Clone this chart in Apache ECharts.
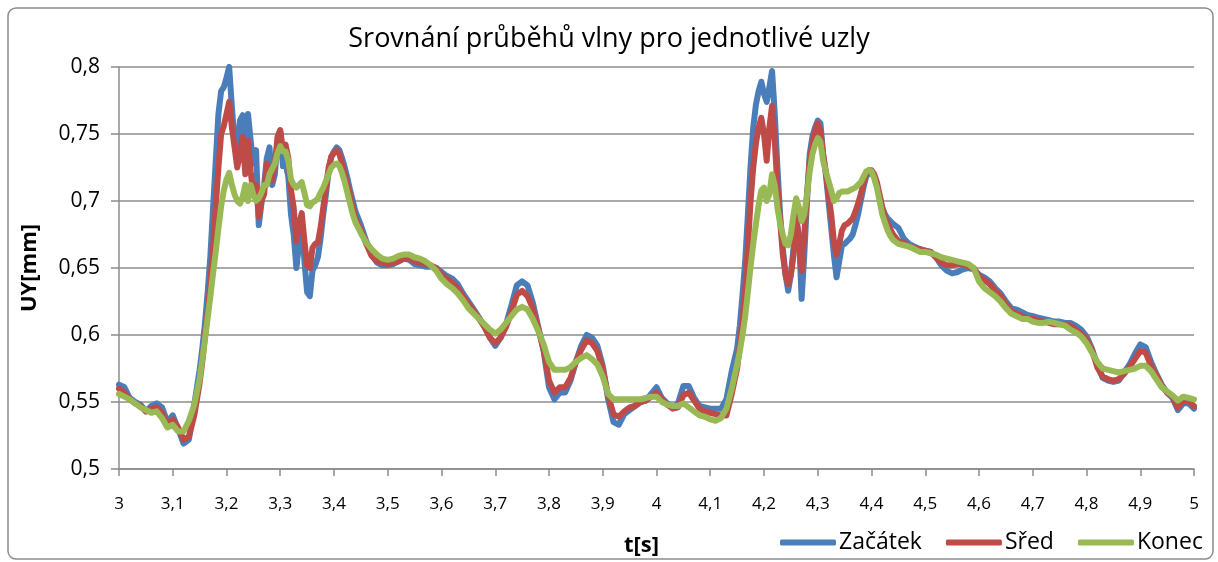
<!DOCTYPE html>
<html>
<head>
<meta charset="utf-8">
<script src="https://cdn.jsdelivr.net/npm/echarts@6/dist/echarts.min.js"></script>
<style>
  html, body { margin: 0; padding: 0; background: #ffffff; }
  #chart { width: 1218px; height: 562px; }
</style>
</head>
<body>
<div id="chart"></div>
<script>
// Time samples [s]: 0.01 s steps, 0.005 s through the two wave fronts
const T = [
  3.00,3.01,3.02,3.03,3.04,3.05,3.06,3.07,3.08,3.09,3.10,3.11,3.12,3.13,3.14,
  3.150,3.155,3.160,3.165,3.170,3.175,3.180,3.185,3.190,3.195,
  3.200,3.205,3.210,3.215,3.220,3.225,3.230,3.235,3.240,3.245,
  3.250,3.255,3.260,3.265,3.270,3.275,3.280,3.285,3.290,3.295,
  3.300,3.305,3.310,3.315,3.320,3.325,3.330,3.335,3.340,3.345,
  3.350,3.355,3.360,3.365,3.370,3.375,3.380,3.385,3.390,3.395,
  3.400,3.405,3.410,3.415,3.420,3.425,3.430,3.435,3.440,
  3.45,3.46,3.47,3.48,3.49,3.50,3.51,3.52,3.53,3.54,
  3.55,3.56,3.57,3.58,3.59,3.60,3.61,3.62,3.63,3.64,
  3.65,3.66,3.67,3.68,3.69,3.70,3.71,3.72,3.73,3.74,
  3.75,3.76,3.77,3.78,3.79,3.80,3.81,3.82,3.83,3.84,
  3.85,3.86,3.87,3.88,3.89,3.90,3.91,3.92,3.93,3.94,
  3.95,3.96,3.97,3.98,3.99,4.00,4.01,4.02,4.03,4.04,
  4.05,4.06,4.07,4.08,4.09,4.10,4.11,4.12,4.13,4.14,
  4.150,4.155,4.160,4.165,4.170,4.175,4.180,4.185,4.190,4.195,
  4.200,4.205,4.210,4.215,4.220,4.225,4.230,4.235,4.240,4.245,
  4.250,4.255,4.260,4.265,4.270,4.275,4.280,4.285,4.290,4.295,
  4.300,4.305,4.310,4.315,4.320,4.325,4.330,4.335,4.340,4.345,
  4.350,4.355,4.360,4.365,4.370,4.375,4.380,4.385,4.390,4.395,
  4.400,4.405,4.410,4.415,4.420,4.425,4.430,4.435,4.440,
  4.45,4.46,4.47,4.48,4.49,4.50,4.51,4.52,4.53,4.54,
  4.55,4.56,4.57,4.58,4.59,4.60,4.61,4.62,4.63,4.64,
  4.65,4.66,4.67,4.68,4.69,4.70,4.71,4.72,4.73,4.74,
  4.75,4.76,4.77,4.78,4.79,4.80,4.81,4.82,4.83,4.84,
  4.85,4.86,4.87,4.88,4.89,4.90,4.91,4.92,4.93,4.94,
  4.95,4.96,4.97,4.98,4.99,5.00
];

// UY [mm] at the start node
const ZACATEK = [
  0.563,0.561,0.553,0.550,0.548,0.543,0.547,0.549,0.546,0.535,0.540,0.530,0.519,0.522,0.548,
  0.574,0.590,0.609,0.632,0.659,0.695,0.730,0.765,0.782,0.785,
  0.792,0.800,0.770,0.745,0.735,0.760,0.764,0.735,0.765,0.745,
  0.728,0.738,0.682,0.698,0.712,0.732,0.740,0.712,0.720,0.745,
  0.752,0.726,0.728,0.718,0.690,0.675,0.650,0.668,0.686,0.655,
  0.632,0.629,0.648,0.652,0.658,0.672,0.690,0.705,0.722,0.733,
  0.737,0.740,0.738,0.732,0.725,0.717,0.708,0.700,0.692,
  0.682,0.670,0.660,0.654,0.652,0.652,0.653,0.655,0.657,0.656,
  0.653,0.652,0.651,0.651,0.650,0.647,0.644,0.642,0.638,0.631,
  0.625,0.619,0.613,0.606,0.598,0.592,0.598,0.608,0.622,0.637,
  0.640,0.637,0.624,0.606,0.588,0.561,0.552,0.557,0.557,0.566,
  0.580,0.592,0.600,0.598,0.592,0.577,0.552,0.535,0.533,0.541,
  0.544,0.547,0.550,0.551,0.556,0.561,0.553,0.549,0.546,0.549,
  0.562,0.562,0.553,0.547,0.546,0.545,0.545,0.545,0.552,0.573,
  0.590,0.607,0.630,0.655,0.690,0.726,0.755,0.772,0.782,0.789,
  0.780,0.774,0.785,0.797,0.765,0.725,0.690,0.665,0.645,0.633,
  0.645,0.665,0.685,0.675,0.627,0.660,0.700,0.735,0.748,0.755,
  0.760,0.758,0.735,0.720,0.700,0.680,0.660,0.643,0.655,0.667,
  0.668,0.670,0.672,0.675,0.682,0.690,0.700,0.710,0.718,0.721,
  0.721,0.718,0.712,0.703,0.695,0.690,0.687,0.685,0.683,
  0.680,0.672,0.668,0.666,0.664,0.663,0.662,0.658,0.652,0.648,
  0.646,0.647,0.649,0.650,0.649,0.645,0.643,0.640,0.635,0.631,
  0.625,0.620,0.619,0.617,0.615,0.614,0.613,0.612,0.611,0.610,
  0.610,0.609,0.609,0.607,0.604,0.599,0.590,0.578,0.568,0.566,
  0.565,0.566,0.572,0.578,0.586,0.593,0.591,0.580,0.571,0.563,
  0.557,0.553,0.544,0.549,0.549,0.545
];

// UY [mm] at the middle node
const SRED = [
  0.560,0.557,0.552,0.549,0.547,0.543,0.545,0.546,0.542,0.533,0.537,0.531,0.522,0.524,0.540,
  0.564,0.580,0.599,0.618,0.639,0.665,0.696,0.725,0.750,0.756,
  0.765,0.774,0.755,0.740,0.725,0.735,0.748,0.720,0.745,0.722,
  0.705,0.712,0.688,0.700,0.705,0.728,0.722,0.715,0.728,0.748,
  0.753,0.738,0.742,0.732,0.708,0.695,0.670,0.682,0.691,0.670,
  0.652,0.650,0.665,0.668,0.669,0.680,0.695,0.710,0.725,0.733,
  0.736,0.738,0.735,0.728,0.720,0.712,0.704,0.695,0.687,
  0.678,0.668,0.659,0.655,0.654,0.653,0.654,0.655,0.657,0.657,
  0.655,0.654,0.653,0.652,0.650,0.645,0.642,0.639,0.635,0.629,
  0.623,0.618,0.612,0.606,0.598,0.594,0.598,0.606,0.617,0.630,
  0.633,0.629,0.620,0.605,0.589,0.566,0.557,0.561,0.561,0.568,
  0.580,0.589,0.596,0.594,0.588,0.575,0.555,0.541,0.539,0.543,
  0.546,0.547,0.550,0.551,0.554,0.557,0.552,0.548,0.545,0.546,
  0.555,0.557,0.551,0.545,0.543,0.542,0.541,0.540,0.540,0.556,
  0.575,0.592,0.612,0.635,0.665,0.700,0.725,0.743,0.755,0.762,
  0.750,0.730,0.755,0.771,0.745,0.710,0.685,0.660,0.645,0.638,
  0.645,0.660,0.690,0.670,0.648,0.675,0.705,0.730,0.743,0.752,
  0.758,0.752,0.735,0.722,0.705,0.690,0.670,0.660,0.668,0.678,
  0.682,0.683,0.685,0.687,0.692,0.698,0.705,0.713,0.720,0.723,
  0.723,0.720,0.714,0.705,0.695,0.688,0.683,0.679,0.675,
  0.670,0.669,0.666,0.665,0.664,0.663,0.662,0.658,0.654,0.652,
  0.652,0.653,0.653,0.651,0.650,0.644,0.641,0.638,0.633,0.629,
  0.623,0.618,0.616,0.614,0.612,0.612,0.611,0.610,0.609,0.608,
  0.608,0.608,0.607,0.604,0.601,0.597,0.589,0.576,0.569,0.567,
  0.566,0.567,0.571,0.576,0.582,0.588,0.587,0.577,0.570,0.562,
  0.557,0.554,0.546,0.551,0.551,0.547
];

// UY [mm] at the end node
const KONEC = [
  0.556,0.554,0.552,0.549,0.546,0.544,0.542,0.543,0.538,0.531,0.533,0.528,0.528,0.536,0.548,
  0.567,0.582,0.597,0.613,0.629,0.646,0.662,0.680,0.696,0.708,
  0.716,0.721,0.712,0.705,0.700,0.698,0.703,0.712,0.700,0.712,
  0.705,0.700,0.702,0.706,0.712,0.712,0.720,0.724,0.728,0.736,
  0.741,0.737,0.737,0.730,0.716,0.712,0.710,0.712,0.714,0.706,
  0.697,0.696,0.699,0.700,0.702,0.706,0.710,0.715,0.720,0.725,
  0.727,0.728,0.726,0.721,0.714,0.706,0.698,0.690,0.684,
  0.676,0.669,0.664,0.660,0.657,0.656,0.657,0.659,0.660,0.660,
  0.658,0.657,0.655,0.652,0.648,0.642,0.638,0.635,0.631,0.626,
  0.620,0.616,0.612,0.608,0.604,0.601,0.604,0.609,0.614,0.619,
  0.621,0.619,0.612,0.603,0.593,0.580,0.574,0.574,0.574,0.576,
  0.580,0.583,0.585,0.582,0.578,0.569,0.556,0.552,0.552,0.552,
  0.552,0.552,0.552,0.553,0.554,0.554,0.550,0.548,0.547,0.547,
  0.549,0.546,0.543,0.540,0.539,0.537,0.536,0.538,0.545,0.560,
  0.578,0.588,0.600,0.614,0.632,0.651,0.668,0.683,0.697,0.708,
  0.710,0.700,0.705,0.720,0.712,0.695,0.683,0.675,0.668,0.667,
  0.675,0.690,0.702,0.695,0.685,0.690,0.705,0.722,0.735,0.742,
  0.747,0.744,0.730,0.722,0.715,0.708,0.700,0.702,0.706,0.707,
  0.707,0.707,0.708,0.709,0.710,0.712,0.714,0.718,0.722,0.723,
  0.722,0.717,0.710,0.700,0.690,0.684,0.678,0.674,0.671,
  0.668,0.667,0.666,0.664,0.662,0.662,0.661,0.660,0.658,0.657,
  0.656,0.655,0.654,0.653,0.650,0.640,0.635,0.632,0.629,0.625,
  0.620,0.616,0.614,0.612,0.612,0.610,0.609,0.609,0.610,0.609,
  0.608,0.607,0.604,0.602,0.599,0.594,0.587,0.580,0.575,0.574,
  0.573,0.572,0.573,0.574,0.575,0.577,0.577,0.573,0.567,0.561,
  0.558,0.555,0.551,0.554,0.553,0.552
];

const SERIES_NAMES = ['Začátek', 'Sřed', 'Konec'];
const SERIES_COLORS = ['#4A7EBB', '#BE4B48', '#98B954'];
const TITLE = 'Srovnání průběhů vlny pro jednotlivé uzly';

const FONT = "'Open Sans', 'Noto Sans', sans-serif";
const GRID_GREY = '#8C8C8C';

// decimal comma, as in the Czech locale
function czNumber(v) {
  return String(Number(v.toFixed(3))).replace('.', ',');
}

function pairs(values) {
  return T.map((t, i) => [t, values[i]]);
}

const chart = echarts.init(document.getElementById('chart'), null, { renderer: 'canvas' });

chart.setOption({
  animation: false,
  backgroundColor: '#ffffff',
  textStyle: { fontFamily: FONT },
  title: {
    text: TITLE,
    left: 'center',
    top: 21,
    textStyle: { fontFamily: FONT, fontSize: 27, fontWeight: 'normal', color: '#000000' }
  },
  grid: { left: 119, right: 24, top: 67, bottom: 92, containLabel: false },
  legend: {
    data: SERIES_NAMES,
    left: 775,
    top: 526,
    icon: 'roundRect',
    itemWidth: 56,
    itemHeight: 6,
    itemGap: 24,
    textStyle: { fontFamily: FONT, fontSize: 23, color: '#000000', padding: [0, 0, 0, -2] }
  },
  xAxis: {
    type: 'value',
    min: 3,
    max: 5,
    interval: 0.1,
    name: 't[s]',
    nameLocation: 'middle',
    nameGap: 66,
    nameTextStyle: { fontFamily: FONT, fontSize: 22, fontWeight: 'bold', color: '#000000', padding: [0, 30, 0, 0] },
    axisLine: { show: true, lineStyle: { color: GRID_GREY, width: 1.5 } },
    axisTick: { show: true, length: 7, lineStyle: { color: GRID_GREY, width: 1.5 } },
    axisLabel: { fontFamily: FONT, fontSize: 17, color: '#000000', margin: 27, formatter: czNumber },
    splitLine: { show: false }
  },
  yAxis: {
    type: 'value',
    min: 0.5,
    max: 0.8,
    interval: 0.05,
    name: 'UY[mm]',
    nameLocation: 'middle',
    nameGap: 78,
    nameTextStyle: { fontFamily: FONT, fontSize: 22, fontWeight: 'bold', color: '#000000' },
    axisLine: { show: true, lineStyle: { color: GRID_GREY, width: 1.5 } },
    axisTick: { show: true, length: 8, lineStyle: { color: GRID_GREY, width: 1.5 } },
    axisLabel: { fontFamily: FONT, fontSize: 21, color: '#000000', margin: 19, formatter: czNumber },
    splitLine: { show: true, lineStyle: { color: GRID_GREY, width: 1.5 } }
  },
  graphic: [{
    type: 'rect',
    silent: true,
    shape: { x: 8, y: 8, width: 1205, height: 551, r: 8 },
    style: { fill: 'none', stroke: '#8C8C8C', lineWidth: 1.5 },
    z: -1
  }],
  series: [ZACATEK, SRED, KONEC].map((values, i) => ({
    name: SERIES_NAMES[i],
    type: 'line',
    data: pairs(values),
    showSymbol: false,
    symbol: 'none',
    smooth: false,
    color: SERIES_COLORS[i],
    lineStyle: { width: 6, color: SERIES_COLORS[i], cap: 'round', join: 'round' },
    z: 2 + i
  }))
});
</script>
</body>
</html>
